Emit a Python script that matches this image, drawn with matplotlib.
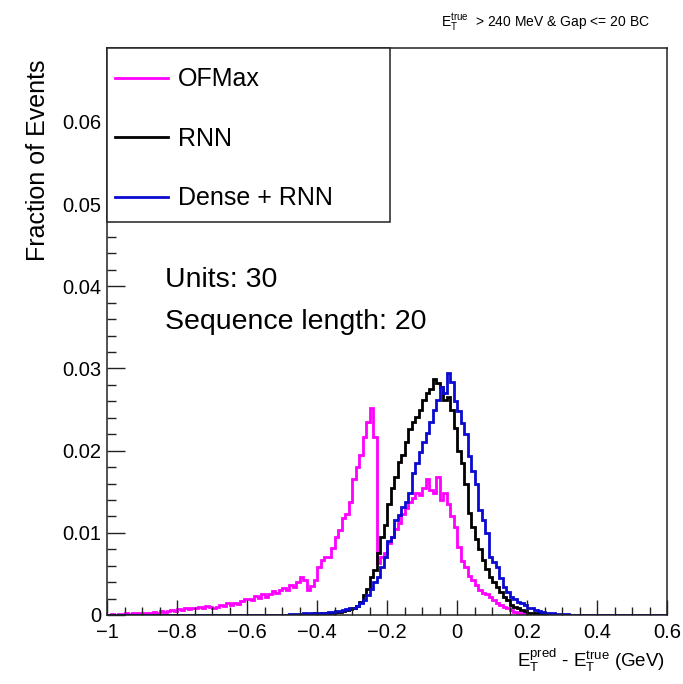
import matplotlib
matplotlib.use("Agg")
import matplotlib.pyplot as plt
from matplotlib.patches import Rectangle
import numpy as np
from matplotlib.ticker import MultipleLocator, FuncFormatter

plt.rcParams['font.family'] = ['Liberation Sans', 'DejaVu Sans']
plt.rcParams['mathtext.fontset'] = 'custom'
plt.rcParams['mathtext.rm'] = 'Liberation Sans'

# histogram range and binning (0.01 GeV bins from -1 to 0.6)
x_lo, x_hi = -1.0, 0.6

# bin contents, in units of 1e-3 (fraction of events)
ofmax = [
    0, 0.1, 0, 0.1, 0.1, 0.2, 0.1, 0.2, 0.2, 0.3,
    0.2, 0.3, 0.3, 0.4, 0.3, 0.5, 0.4, 0.5, 0.6, 0.5,
    0.7, 0.6, 0.8, 0.7, 0.9, 0.8, 1.0, 0.9, 1.1, 1.0,
    0.9, 1.0, 1.2, 1.1, 1.4, 1.2, 1.5, 1.3, 1.7, 1.9,
    2.0, 1.8, 2.3, 2.1, 2.6, 2.2, 2.5, 2.9, 2.7, 3.0,
    3.3, 3.1, 3.6, 3.4, 4.0, 4.6, 4.2, 3.0, 3.5, 4.3,
    5.8, 6.7, 7.1, 7.0, 8.2, 9.5, 10.3, 11.8, 12.3, 13.7,
    16.5, 18.0, 19.5, 21.7, 23.5, 25.2, 21.7,
    6.3, 7.0, 7.5, 8.8, 9.5, 10.5, 11.2, 12.3, 13.0, 13.7,
    14.2, 14.9, 14.6, 15.5, 16.5, 15.2, 14.9, 16.8, 14.0, 14.8,
    13.5, 12.0, 10.7, 8.3, 6.6, 5.8, 4.8, 4.3, 3.6, 3.0,
    2.7, 2.5, 2.2, 1.8, 1.5, 1.2, 1.0, 0.8, 0.6, 0.4,
    0.3, 0.2, 0.1, 0.1,
] + [0] * 39

rnn = [0] * 56 + [
    0.1, 0.1, 0.1, 0.2, 0.1, 0.2, 0.2, 0.3, 0.3, 0.4, 0.4, 0.5, 0.6, 0.7,
    0.8, 1.1, 1.6, 2.4, 3.2, 4.6, 5.5, 7.6, 9.5, 11.0,
    13.5, 15.5, 16.8, 18.6, 19.5, 21.0, 22.6, 23.5, 24.1, 25.0,
    26.2, 27.0, 27.5, 28.7, 28.2, 27.8, 26.2, 26.5, 25.0, 22.8,
    20.0, 18.5, 16.0, 12.4, 10.7, 9.2, 8.0, 6.7, 5.6, 4.6,
    4.0, 3.4, 2.8, 2.2, 1.8, 1.2, 1.0, 0.8, 0.6, 0.5,
    0.3, 0.2, 0.2, 0.1, 0.1, 0.1, 0, 0, 0, 0,
] + [0] * 30

dense_rnn = [0] * 52 + [
    0.1, 0.1, 0.1, 0.1, 0.2, 0.1, 0.2, 0.2, 0.3, 0.3, 0.3, 0.4, 0.4, 0.5, 0.5, 0.6, 0.7, 0.8,
    0.9, 1.1, 1.5, 1.8, 2.4, 3.2, 4.0, 4.6, 5.8, 7.1,
    9.0, 9.5, 11.6, 12.2, 13.2, 13.8, 14.9, 17.3, 18.5, 19.8,
    21.0, 22.2, 23.5, 25.0, 26.2, 27.8, 27.0, 29.5, 28.4, 26.0,
    24.8, 23.4, 22.0, 19.3, 17.5, 16.0, 12.8, 11.5, 10.0, 7.1,
    6.5, 5.8, 4.5, 3.4, 2.8, 2.2, 1.9, 1.6, 1.5, 1.2,
    0.9, 0.8, 0.6, 0.5, 0.4, 0.3, 0.2, 0.2, 0.1, 0.1,
    0.1, 0.1,
] + [0] * 28

series = [('OFMax', ofmax, '#ff00ff'),
          ('RNN', rnn, 'black'),
          ('Dense + RNN', dense_rnn, '#0a0ad0')]

edges = np.linspace(x_lo, x_hi, len(ofmax) + 1)

fig = plt.figure(figsize=(6.83, 6.84), dpi=100)
ax = fig.add_axes([0.1567, 0.1009, 0.82, 0.8289])

for name, vals, col in series:
    ax.stairs(np.array(vals) * 1e-3, edges, color=col, linewidth=2.0, label=name)

ax.set_xlim(x_lo, x_hi)
ax.set_ylim(0, 0.069)

ax.xaxis.set_major_locator(MultipleLocator(0.2))
ax.xaxis.set_minor_locator(MultipleLocator(0.05))
ax.yaxis.set_major_locator(MultipleLocator(0.01))
ax.yaxis.set_minor_locator(MultipleLocator(0.002))

def fmt(v, pos):
    if abs(v) < 1e-9:
        return '0'
    return ('%g' % round(v, 3)).replace('-', '\u2212')

ax.xaxis.set_major_formatter(FuncFormatter(fmt))
ax.yaxis.set_major_formatter(FuncFormatter(fmt))

ax.tick_params(axis='both', which='both', direction='in', labelsize=14.5, color='#222222')
ax.tick_params(axis='y', which='major', length=13, width=1, pad=4)
ax.tick_params(axis='y', which='minor', length=6.5, width=1)
ax.tick_params(axis='x', which='major', length=11, width=1, pad=6)
ax.tick_params(axis='x', which='minor', length=6, width=1)
for s in ax.spines.values():
    s.set_linewidth(1.1)
    s.set_color('#222222')

# legend box drawn by hand, entries placed inside it
ax.add_patch(Rectangle((0, 0.693), 0.505, 0.307, transform=ax.transAxes,
                       facecolor='white', edgecolor='#222222', linewidth=1.1,
                       zorder=4, clip_on=False))
leg = ax.legend(handles=[plt.Line2D([], [], color=c, lw=2.0) for _, _, c in series],
                labels=[n for n, _, _ in series],
                loc='upper left', bbox_to_anchor=(0.0143, 0.966),
                fontsize=18, labelspacing=1.42, handlelength=2.1, handletextpad=0.4,
                borderpad=0, borderaxespad=0, frameon=False)
leg.set_zorder(5)

ax.text(-0.834, 0.0408, 'Units: 30', fontsize=20.5, va='center', ha='left')
ax.text(-0.834, 0.0356, 'Sequence length: 20', fontsize=20.5, va='center', ha='left')

fig.text(0.952, 0.968, r'$\mathregular{E_{T}^{true}}$  > 240 MeV & Gap <= 20 BC',
         ha='right', va='center', fontsize=10)
fig.text(0.974, 0.035, r'$\mathregular{E_{T}^{pred}}$ - $\mathregular{E_{T}^{true}}$ (GeV)',
         ha='right', va='center', fontsize=13.5)
fig.text(0.056, 0.765, 'Fraction of Events', rotation=90, ha='center', va='center', fontsize=18)

fig.savefig('out.png', dpi=100)
